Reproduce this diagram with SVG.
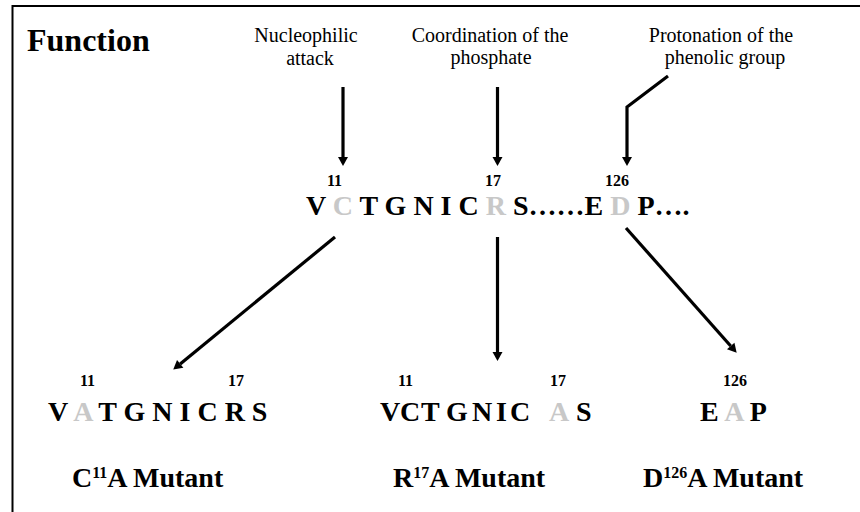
<svg xmlns="http://www.w3.org/2000/svg" width="860" height="512" viewBox="0 0 860 512">
<defs>
<style>
.lbl{font-family:"Liberation Serif","Times New Roman",serif;font-size:20px;fill:#000;text-anchor:middle}
.b{font-family:"Liberation Serif","Times New Roman",serif;font-weight:bold;fill:#000}
.seq{font-size:28px}
.num{font-size:16px}
.mut{font-size:28px}
.sup{font-size:16px}
.g{fill:#c8c8c8}
.ar{fill:none;stroke:#000;stroke-width:3.2;marker-end:url(#ah)}
</style>
<marker id="ah" markerUnits="userSpaceOnUse" markerWidth="12" markerHeight="12" refX="0" refY="5" orient="auto" overflow="visible">
<path d="M0,0 L9,5 L0,10 Z" fill="#000"/>
</marker>
</defs>
<rect x="12.5" y="6" width="900" height="600" fill="#fff" stroke="#000" stroke-width="2"/>
<g id="title"><text class="b" x="27" y="51" font-size="32">Function</text></g>
<g id="label-nucleophilic">
<text class="lbl" x="306" y="42">Nucleophilic</text>
<text class="lbl" x="310" y="65">attack</text>
</g>
<g id="label-coordination">
<text class="lbl" x="490" y="42">Coordination of the</text>
<text class="lbl" x="491" y="64">phosphate</text>
</g>
<g id="label-protonation">
<text class="lbl" x="721" y="42">Protonation of the</text>
<text class="lbl" x="725" y="64">phenolic group</text>
</g>
<g id="wild-type">
<text class="b num" x="327" y="186">11</text>
<text class="b num" x="485" y="186">17</text>
<text class="b num" x="605" y="186">126</text>
<text class="b seq" x="306" y="215" xml:space="preserve">V <tspan class="g">C</tspan> T G N I C <tspan class="g">R</tspan> S……E <tspan class="g">D</tspan> P….</text>
</g>
<g id="mutant-c11a">
<text class="b num" x="80" y="386">11</text>
<text class="b num" x="228" y="386">17</text>
<text class="b seq" x="48" y="421" xml:space="preserve">V <tspan class="g">A</tspan> T G N I C R S</text>
<text class="b mut" x="72" y="487">C<tspan class="sup" dy="-9">11</tspan><tspan dy="9">A Mutant</tspan></text>
</g>
<g id="mutant-r17a">
<text class="b num" x="398" y="386">11</text>
<text class="b num" x="550" y="386">17</text>
<text class="b seq" y="421"><tspan x="380">V</tspan><tspan x="400">C</tspan><tspan x="421">T</tspan><tspan x="446">G</tspan><tspan x="472">N</tspan><tspan x="496">I</tspan><tspan x="510">C</tspan><tspan class="g" x="549">A</tspan><tspan x="576">S</tspan></text>
<text class="b mut" x="393" y="487">R<tspan class="sup" dy="-9">17</tspan><tspan dy="9">A Mutant</tspan></text>
</g>
<g id="mutant-d126a">
<text class="b num" x="723" y="386">126</text>
<text class="b seq" x="700" y="421" xml:space="preserve">E <tspan class="g">A</tspan> P</text>
<text class="b mut" x="643" y="487">D<tspan class="sup" dy="-9">126</tspan><tspan dy="9">A Mutant</tspan></text>
</g>
<g id="connectors">
<path class="ar" d="M343,87 L343,157"/>
<path class="ar" d="M497.5,87 L497.5,157"/>
<path class="ar" d="M668,76 L627,107 L627,157"/>
<path class="ar" d="M335,237 L180.2,363.9"/>
<path class="ar" d="M497.5,237 L497.5,352"/>
<path class="ar" d="M626,228 L730.7,346"/>
</g>
</svg>
